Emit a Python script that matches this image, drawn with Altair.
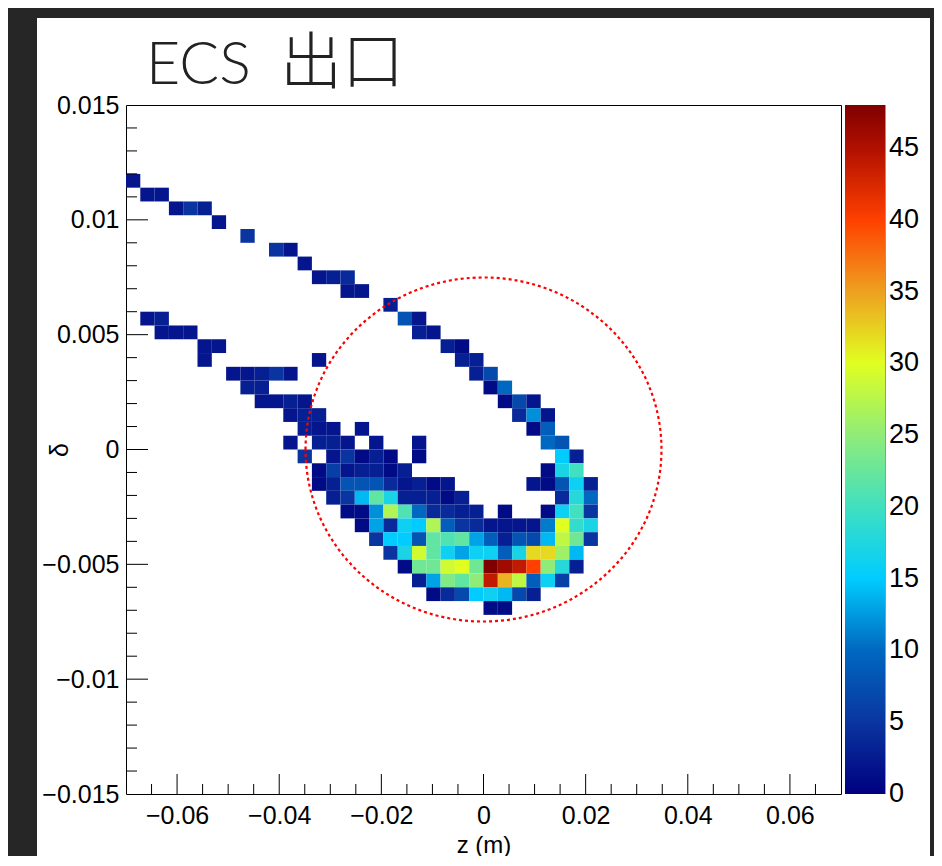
import altair as alt
import pandas as pd

# ---------------- histogram binning (50 x 50 bins) ----------------
Z_MIN, Z_MAX, NZ = -0.07, 0.07, 50
D_MIN, D_MAX, ND = -0.015, 0.015, 50
DZ = (Z_MAX - Z_MIN) / NZ
DD = (D_MAX - D_MIN) / ND

# ---------------- non-empty cells: z-bin index, delta-bin index, counts ----------------
z_bin = [
    0,
    1, 2,
    3, 4, 5,
    6,
    8,
    10, 11,
    12,
    13, 14, 15,
    15, 16,
    18,
    1, 2, 19, 20,
    2, 3, 4, 20, 21,
    5, 6, 22, 23,
    5, 13, 23, 24,
    7, 8, 9, 10, 11, 24, 25,
    8, 9, 25, 26,
    9, 10, 11, 12, 26, 27, 28,
    11, 12, 13, 27, 28, 29,
    12, 13, 14, 16, 28, 29,
    11, 13, 14, 15, 17, 20, 29, 30,
    12, 14, 15, 16, 17, 18, 20, 30, 31,
    13, 14, 15, 16, 17, 18, 19, 29, 30, 31,
    13, 14, 15, 16, 17, 18, 19, 20, 21, 22, 28, 29, 30, 31, 32,
    14, 15, 16, 17, 18, 19, 20, 21, 22, 23, 30, 31, 32,
    15, 16, 17, 18, 19, 20, 21, 22, 23, 24, 26, 29, 30, 31, 32,
    16, 17, 18, 19, 20, 21, 22, 23, 24, 25, 26, 27, 28, 29, 30, 31, 32,
    17, 18, 19, 20, 21, 22, 23, 24, 25, 26, 27, 28, 29, 30, 31, 32,
    18, 19, 20, 21, 22, 23, 24, 25, 26, 27, 28, 29, 30, 31,
    19, 20, 21, 22, 23, 24, 25, 26, 27, 28, 29, 30, 31,
    20, 21, 22, 23, 24, 25, 26, 27, 28, 29, 30,
    21, 22, 23, 24, 25, 26, 27, 28,
    25, 26,
]
d_bin = [
    44,
    43, 43,
    42, 42, 42,
    41,
    40,
    39, 39,
    38,
    37, 37, 37,
    36, 36,
    35,
    34, 34, 34, 34,
    33, 33, 33, 33, 33,
    32, 32, 32, 32,
    31, 31, 31, 31,
    30, 30, 30, 30, 30, 30, 30,
    29, 29, 29, 29,
    28, 28, 28, 28, 28, 28, 28,
    27, 27, 27, 27, 27, 27,
    26, 26, 26, 26, 26, 26,
    25, 25, 25, 25, 25, 25, 25, 25,
    24, 24, 24, 24, 24, 24, 24, 24, 24,
    23, 23, 23, 23, 23, 23, 23, 23, 23, 23,
    22, 22, 22, 22, 22, 22, 22, 22, 22, 22, 22, 22, 22, 22, 22,
    21, 21, 21, 21, 21, 21, 21, 21, 21, 21, 21, 21, 21,
    20, 20, 20, 20, 20, 20, 20, 20, 20, 20, 20, 20, 20, 20, 20,
    19, 19, 19, 19, 19, 19, 19, 19, 19, 19, 19, 19, 19, 19, 19, 19, 19,
    18, 18, 18, 18, 18, 18, 18, 18, 18, 18, 18, 18, 18, 18, 18, 18,
    17, 17, 17, 17, 17, 17, 17, 17, 17, 17, 17, 17, 17, 17,
    16, 16, 16, 16, 16, 16, 16, 16, 16, 16, 16, 16, 16,
    15, 15, 15, 15, 15, 15, 15, 15, 15, 15, 15,
    14, 14, 14, 14, 14, 14, 14, 14,
    13, 13,
]
counts = [
    2,
    2, 2,
    2, 5, 3,
    2,
    5,
    5, 2,
    2,
    2, 3, 4,
    2, 2,
    3,
    2, 3, 8, 2,
    2, 2, 2, 3, 2,
    2, 2, 3, 1,
    2, 2, 3, 3,
    2, 2, 3, 5, 2, 3, 7,
    3, 3, 1, 10,
    2, 2, 3, 2, 1, 7, 2,
    2, 3, 3, 4, 12, 2,
    3, 2, 2, 2, 1, 9,
    2, 3, 3, 2, 2, 2, 10, 8,
    5, 2, 5, 1, 3, 1, 1, 15, 3,
    1, 6, 2, 3, 3, 1, 3, 1, 17, 20,
    1, 3, 8, 8, 8, 4, 2, 3, 1, 2, 2, 1, 8, 16, 3,
    3, 5, 14, 22, 17, 3, 3, 3, 1, 3, 4, 18, 10,
    1, 1, 12, 27, 21, 10, 4, 4, 3, 3, 1, 1, 16, 20, 5,
    1, 13, 4, 16, 15, 27, 9, 5, 4, 2, 2, 2, 2, 11, 30, 19, 17,
    5, 15, 15, 8, 22, 21, 22, 13, 9, 3, 8, 7, 14, 28, 23, 5,
    5, 17, 29, 22, 16, 13, 16, 16, 9, 17, 32, 32, 26, 14,
    1, 23, 23, 29, 30, 23, 48, 46, 44, 40, 25, 18, 3,
    3, 13, 24, 22, 25, 44, 34, 28, 9, 16, 6,
    1, 4, 7, 15, 16, 14, 7, 3,
    1, 1,
]

# ---------------- axes, ticks, palette ----------------
x_labels = [-0.06, -0.04, -0.02, 0.0, 0.02, 0.04, 0.06]
x_minor = [-0.065, -0.055, -0.05, -0.045, -0.035, -0.03, -0.025, -0.015, -0.01, -0.005,
           0.005, 0.01, 0.015, 0.025, 0.03, 0.035, 0.045, 0.05, 0.055, 0.065]
y_labels = [-0.015, -0.01, -0.005, 0.0, 0.005, 0.01, 0.015]
y_major = [-0.01, -0.005, 0.0, 0.005, 0.01]
y_minor = [-0.014, -0.013, -0.012, -0.011, -0.009, -0.008, -0.007, -0.006,
           -0.004, -0.003, -0.002, -0.001, 0.001, 0.002, 0.003, 0.004,
           0.006, 0.007, 0.008, 0.009, 0.011, 0.012, 0.013, 0.014]
cbar_labels = [5, 10, 15, 20, 25, 30, 35, 40, 45]
cbar_zero_label = [0]
cbar_ticks = [5, 10, 15, 20, 25, 30, 35, 40, 45]
Z_COLOR_MAX = 48
palette_values = [0, 5, 10, 15, 20, 25, 30, 35, 40, 45, 48]
palette_colors = ["#000080", "#0a35a0", "#0068c0", "#00ccff", "#40e0c0", "#90ec78",
                  "#e0ff20", "#eea020", "#ff4000", "#b01000", "#800000"]

ring_center_z = [0.0]
ring_center_d = [0.0]

title_latin = "ECS"
title_cjk = "出口"

# ---------------- layout ----------------
W, H = 715, 689
PAD = {"left": 118, "top": 97, "right": 93, "bottom": 62}
FONT = "Liberation Sans, Arial, Helvetica"
DARK = "#262626"

df = pd.DataFrame({"i": z_bin, "j": d_bin, "n": counts})
df["z0"] = Z_MIN + df["i"] * DZ
df["z1"] = df["z0"] + DZ
df["d0"] = D_MIN + df["j"] * DD
df["d1"] = df["d0"] + DD

xs = alt.Scale(domain=[Z_MIN, Z_MAX], nice=False, zero=False)
ys = alt.Scale(domain=[D_MIN, D_MAX], nice=False, zero=False)
cs = alt.Scale(domain=palette_values, range=palette_colors, interpolate="rgb")

one = pd.DataFrame({"k": [0]})


def strip(x, x2, y, y2):
    return alt.Chart(one).mark_rect(color=DARK).encode(
        x=alt.value(x), x2=alt.value(x2), y=alt.value(y), y2=alt.value(y2))


top_strip = strip(-PAD["left"], W + PAD["right"], -PAD["top"], -PAD["top"] + 10)
left_strip = strip(-PAD["left"], -PAD["left"] + 29, -PAD["top"], H + PAD["bottom"])
right_strip = strip(W + PAD["right"] - 4, W + PAD["right"], -PAD["top"], H + PAD["bottom"])

heat = alt.Chart(df).mark_rect().encode(
    x=alt.X("z0:Q", scale=xs, axis=alt.Axis(
        values=x_labels, format="~g", title="z (m)", grid=False, ticks=False, domain=False,
        labelFont=FONT, labelFontSize=25, labelColor="black", labelPadding=9, labelFlush=False,
        titleFont=FONT, titleFontSize=24, titleFontWeight="normal", titleColor="black",
        titleBaseline="alphabetic", titleY=58)),
    x2="z1:Q",
    y=alt.Y("d0:Q", scale=ys, axis=alt.Axis(
        values=y_labels, format="~g", title="δ", grid=False, ticks=False, domain=False,
        labelFont=FONT, labelFontSize=25, labelColor="black", labelPadding=7, labelFlush=False,
        titleFont=FONT, titleFontSize=25, titleFontWeight="normal", titleColor="black",
        titleAngle=270, titleAlign="center", titleBaseline="middle", titleX=-67, titleY=H / 2)),
    y2="d1:Q",
    color=alt.Color("n:Q", scale=cs, legend=alt.Legend(
        type="gradient", title=None, orient="right", offset=4, padding=0, direction="vertical",
        gradientLength=H, gradientThickness=40, gradientStrokeWidth=0,
        values=cbar_labels, labelFont=FONT, labelFontSize=27, labelColor="black",
        labelOffset=4, labelOverlap=False)),
)


def xticks(vals, length):
    return alt.Chart(pd.DataFrame({"z0": vals})).mark_rule(color="black", strokeWidth=1).encode(
        x=alt.X("z0:Q", scale=xs), y=alt.value(H), y2=alt.value(H - length))


def yticks(vals, length):
    return alt.Chart(pd.DataFrame({"d0": vals})).mark_rule(color="black", strokeWidth=1).encode(
        y=alt.Y("d0:Q", scale=ys), x=alt.value(0), x2=alt.value(length))


# colour-bar ticks / zero label: counts mapped onto the shared vertical extent
def to_delta(v):
    return D_MIN + v / Z_COLOR_MAX * (D_MAX - D_MIN)


cbar_df = pd.DataFrame({"v": cbar_ticks})
cbar_df["d0"] = to_delta(cbar_df["v"])
cbar_tick_layer = alt.Chart(cbar_df).mark_rule(color="black", strokeWidth=1).encode(
    y=alt.Y("d0:Q", scale=ys), x=alt.value(W + 22), x2=alt.value(W + 44))
cbar_edge = alt.Chart(one).mark_rule(color="#333333", strokeWidth=1).encode(
    x=alt.value(W + 44), y=alt.value(0), y2=alt.value(H))
zero_df = pd.DataFrame({"v": cbar_zero_label})
zero_df["d0"] = to_delta(zero_df["v"])
zero_df["t"] = zero_df["v"].astype(str)
cbar_zero = alt.Chart(zero_df).mark_text(
    align="left", baseline="middle", fontSize=27, font=FONT, color="black"
).encode(y=alt.Y("d0:Q", scale=ys), x=alt.value(W + 48), text="t:N")

ellipse = "M -1.017 0 A 1.017 0.983 0 1 1 1.017 0 A 1.017 0.983 0 1 1 -1.017 0 Z"
ring = alt.Chart(pd.DataFrame({"z0": ring_center_z, "d0": ring_center_d})).mark_point(
    shape=ellipse, size=122500, filled=False, color="#ff0000", strokeWidth=2.2,
    strokeDash=[3, 3], opacity=1
).encode(x=alt.X("z0:Q", scale=xs), y=alt.Y("d0:Q", scale=ys))

title_a = alt.Chart(pd.DataFrame({"t": [title_latin]})).mark_text(
    align="left", baseline="alphabetic", fontSize=59, font="Lato, Open Sans",
    fontWeight=300, color="#222222"
).encode(x=alt.value(20), y=alt.value(-21), text="t:N")
title_b = alt.Chart(pd.DataFrame({"t": [title_cjk]})).mark_text(
    align="left", baseline="alphabetic", fontSize=62, font="Noto Sans CJK SC",
    fontWeight=300, color="#222222"
).encode(x=alt.value(154), y=alt.value(-21), text="t:N")

chart = alt.layer(
    top_strip, left_strip, right_strip,
    heat,
    xticks(x_labels, 20), xticks(x_minor, 10),
    yticks(y_major, 22), yticks(y_minor, 11),
    cbar_tick_layer, cbar_edge, cbar_zero,
    ring, title_a, title_b,
).properties(
    width=W, height=H,
    autosize=alt.AutoSizeParams(type="none"),
    padding=PAD,
    background="white",
).configure_view(stroke="black", strokeWidth=1)

chart.save("out.html", embed_options={"renderer": "svg", "actions": False})
